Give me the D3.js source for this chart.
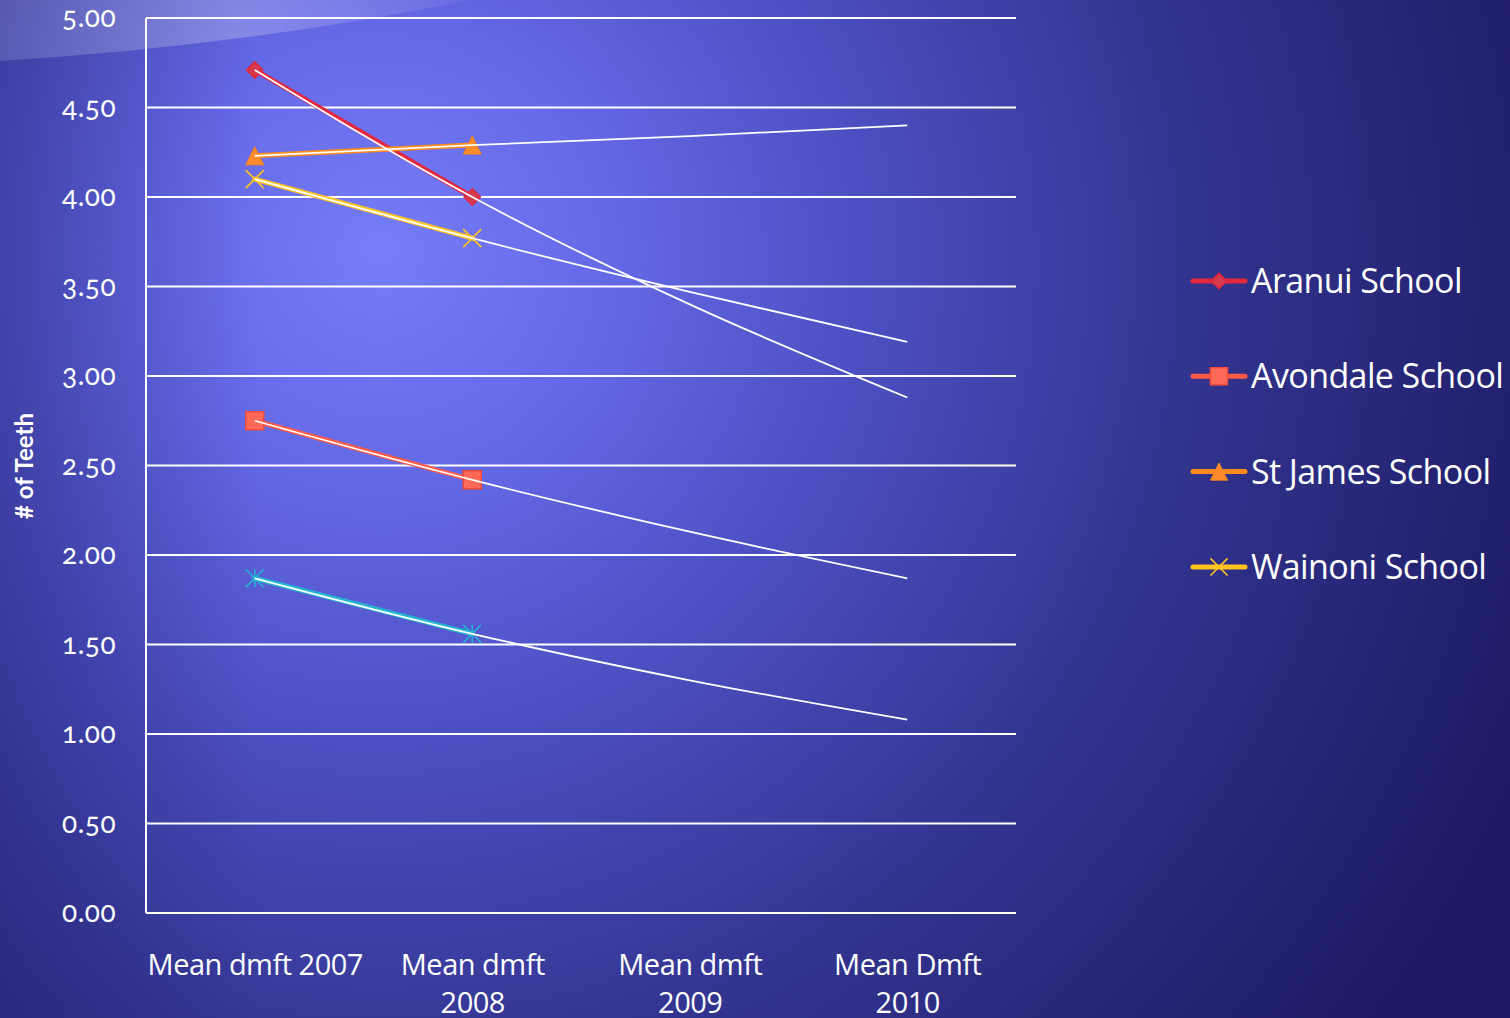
<!DOCTYPE html>
<html><head><meta charset="utf-8">
<script src="https://cdn.jsdelivr.net/npm/d3@7"></script>
<style>
html,body{margin:0;padding:0;background:#2a2a80;overflow:hidden}
svg{display:block}
text{font-family:"Lato","Open Sans",sans-serif;fill:#fff}
</style></head><body>
<svg id="c" width="1510" height="1018"></svg>
<script>
// ---- data ----
const categories = ["Mean dmft 2007", "Mean dmft 2008", "Mean dmft 2009", "Mean Dmft 2010"];
const categoryLabelLines = [["Mean dmft 2007"], ["Mean dmft", "2008"], ["Mean dmft", "2009"], ["Mean Dmft", "2010"]];
const yTicks = [0, 0.5, 1, 1.5, 2, 2.5, 3, 3.5, 4, 4.5, 5];
const seriesNames = ["Aranui School", "Avondale School", "St James School", "Wainoni School", "Series 5"];
const aranui   = [4.71, 4.00, null, null];
const avondale = [2.75, 2.42, null, null];
const stJames  = [4.23, 4.29, null, null];
const wainoni  = [4.10, 3.77, null, null];
const series5  = [1.87, 1.56, null, null];
// trendlines (as drawn in the picture)
const aranuiTrend   = [4.71, 4.00, 3.40, 2.88];
const avondaleTrend = [2.75, 2.42, 2.13, 1.87];
const stJamesTrend  = [4.23, 4.29, 4.34, 4.40];
const wainoniTrend  = [4.10, 3.77, 3.47, 3.19];
const series5Trend  = [1.87, 1.56, 1.30, 1.08];
const yTitle = "# of Teeth";

const seriesValues = [aranui, avondale, stJames, wainoni, series5];
const trendValues = [aranuiTrend, avondaleTrend, stJamesTrend, wainoniTrend, series5Trend];
const style = [
  {line:"#e3273d", fill:"#d43c4d", stroke:"#e3273d", marker:"diamond"},
  {line:"#ff5a45", fill:"#ff6a58", stroke:"#f24a3a", marker:"square"},
  {line:"#ff8c1a", fill:"#ff8c2a", stroke:"#f58220", marker:"triangle"},
  {line:"#ffc21f", fill:"none", stroke:"#ffc21f", marker:"x"},
  {line:"#22b4d2", fill:"none", stroke:"#22b4d2", marker:"asterisk"}
];
const inLegend = [true, true, true, true, false];

// ---- layout ----
const W = 1510, H = 1018;
const plot = {left:146, right:1016, top:18, bottom:913};
const svg = d3.select("#c");
const defs = svg.append("defs");

// background
const rg = defs.append("radialGradient").attr("id","bg").attr("gradientUnits","userSpaceOnUse")
  .attr("cx",380).attr("cy",270).attr("r",1250).attr("fx",380).attr("fy",250);
[[0,"#767df8"],[0.18,"#6469e6"],[0.4,"#4b4ebf"],[0.65,"#33348f"],[1,"#1c1a62"]]
  .forEach(([o,c])=>rg.append("stop").attr("offset",o).attr("stop-color",c));
svg.append("rect").attr("width",W).attr("height",H).attr("fill","url(#bg)");
// left-edge darkening
const lg = defs.append("linearGradient").attr("id","leftShade").attr("x1",0).attr("x2",1).attr("y1",0).attr("y2",0);
lg.append("stop").attr("offset",0).attr("stop-color","#1a1860").attr("stop-opacity",0.35);
lg.append("stop").attr("offset",1).attr("stop-color","#1a1860").attr("stop-opacity",0);
svg.append("rect").attr("width",260).attr("height",H).attr("fill","url(#leftShade)");
// top-left swoosh
const sg = defs.append("linearGradient").attr("id","swoosh").attr("x1",0).attr("x2",1).attr("y1",0).attr("y2",0);
sg.append("stop").attr("offset",0).attr("stop-color","#ffffff").attr("stop-opacity",0.14);
sg.append("stop").attr("offset",0.5).attr("stop-color","#ffffff").attr("stop-opacity",0.24);
sg.append("stop").attr("offset",1).attr("stop-color","#ffffff").attr("stop-opacity",0.05);
svg.append("path").attr("d","M0,0 L470,0 Q250,45 0,61 Z").attr("fill","url(#swoosh)");

// scales
const x = d3.scalePoint().domain(categories).range([plot.left, plot.right]).padding(0.5);
const y = d3.scaleLinear().domain([0,5]).range([plot.bottom, plot.top]);

// gridlines
svg.append("g").selectAll("line").data(yTicks).join("line")
  .attr("x1",plot.left).attr("x2",plot.right)
  .attr("y1",d=>y(d)).attr("y2",d=>y(d))
  .attr("stroke","#ffffff").attr("stroke-width",2);

// y axis
const yAxis = svg.append("g").attr("transform",`translate(${plot.left},0)`)
  .call(d3.axisLeft(y).tickValues(yTicks).tickFormat(d3.format(".2f")).tickSize(0).tickPadding(30));
yAxis.select(".domain").remove();
yAxis.attr("font-size",null).attr("font-family",null);
yAxis.selectAll("text").attr("fill","#fff")
  .style("font-size","28px").style("font-family","Lato,'Open Sans',sans-serif")
  .style("font-feature-settings","'onum'").style("letter-spacing","0.5px");
svg.append("line").attr("x1",plot.left).attr("x2",plot.left).attr("y1",plot.top).attr("y2",plot.bottom)
  .attr("stroke","#fff").attr("stroke-width",2);

// x axis
const xAxis = svg.append("g").attr("transform",`translate(0,${plot.bottom})`)
  .call(d3.axisBottom(x).tickSize(0).tickFormat(""));
xAxis.select(".domain").remove();
xAxis.selectAll(".tick").each(function(d,i){
  const t = d3.select(this).append("text").attr("fill","#fff")
    .attr("text-anchor","middle").attr("y",62)
    .style("font-size","29px").style("font-family","'Open Sans',Lato,sans-serif").style("letter-spacing","-0.5px");
  categoryLabelLines[i].forEach((ln,k)=>t.append("tspan").attr("x",0).attr("dy",k===0?0:38).text(ln));
});

// axis title
svg.append("text").attr("transform","translate(33,466) rotate(-90)")
  .attr("text-anchor","middle").style("font-size","24px").attr("font-weight","bold").text(yTitle);

// symbols
function drawMarker(g, type, cx, cy, st, s){
  s = s || 1;
  if(type==="diamond"){
    g.append("path").attr("d",d3.symbol(d3.symbolDiamond2, 170*s*s)()).attr("transform",`translate(${cx},${cy})`)
      .attr("fill",st.fill).attr("stroke",st.stroke).attr("stroke-width",1.5);
  } else if(type==="square"){
    g.append("rect").attr("x",cx-9*s).attr("y",cy-9*s).attr("width",18*s).attr("height",18*s)
      .attr("fill",st.fill).attr("stroke",st.stroke).attr("stroke-width",1.5);
  } else if(type==="triangle"){
    const h=9*s;
    g.append("path").attr("d",`M${cx},${cy-h} L${cx+h},${cy+h} L${cx-h},${cy+h} Z`)
      .attr("fill",st.fill).attr("stroke",st.stroke).attr("stroke-width",1);
  } else if(type==="x"){
    const h=9*s;
    g.append("path").attr("d",`M${cx-h},${cy-h} L${cx+h},${cy+h} M${cx+h},${cy-h} L${cx-h},${cy+h}`)
      .attr("stroke",st.stroke).attr("stroke-width",1.6).attr("fill","none");
  } else if(type==="asterisk"){
    const h=9*s;
    g.append("path").attr("d",`M${cx-h},${cy-h} L${cx+h},${cy+h} M${cx+h},${cy-h} L${cx-h},${cy+h} M${cx},${cy-h} L${cx},${cy+h}`)
      .attr("stroke",st.stroke).attr("stroke-width",1.6).attr("fill","none");
  }
}

// series lines
const line = d3.line().defined(d=>d.v!=null).x(d=>x(d.c)).y(d=>y(d.v));
const gSeries = svg.append("g");
seriesValues.forEach((vals,si)=>{
  const pts = vals.map((v,i)=>({c:categories[i], v}));
  gSeries.append("path").datum(pts).attr("d",line).attr("fill","none")
    .attr("stroke",style[si].line).attr("stroke-width",5).attr("stroke-linecap","round");
});
seriesValues.forEach((vals,si)=>{
  vals.forEach((v,i)=>{ if(v!=null) drawMarker(gSeries, style[si].marker, x(categories[i]), y(v), style[si]); });
});

// trendlines
const trendLine = d3.line().x(d=>x(d.c)).y(d=>y(d.v)).curve(d3.curveMonotoneX);
const gTrend = svg.append("g");
trendValues.forEach(vals=>{
  const pts = vals.map((v,i)=>({c:categories[i], v}));
  gTrend.append("path").datum(pts).attr("d",trendLine).attr("fill","none")
    .attr("stroke","#ffffff").attr("stroke-width",1.8);
});

// legend
const legend = svg.append("g");
const legendItems = seriesNames.map((n,i)=>({n,i})).filter(d=>inLegend[d.i]);
legendItems.forEach((d,k)=>{
  const cy = 281 + k*95.3;
  legend.append("line").attr("x1",1193).attr("x2",1245).attr("y1",cy).attr("y2",cy)
    .attr("stroke",style[d.i].line).attr("stroke-width",5).attr("stroke-linecap","round");
  drawMarker(legend, style[d.i].marker, 1219, cy, style[d.i], 0.95);
  legend.append("text").attr("x",1251).attr("y",cy+12)
    .style("font-size","34px").style("font-family","'Open Sans',Lato,sans-serif").style("letter-spacing","-0.6px").text(d.n);
});
</script></body></html>
